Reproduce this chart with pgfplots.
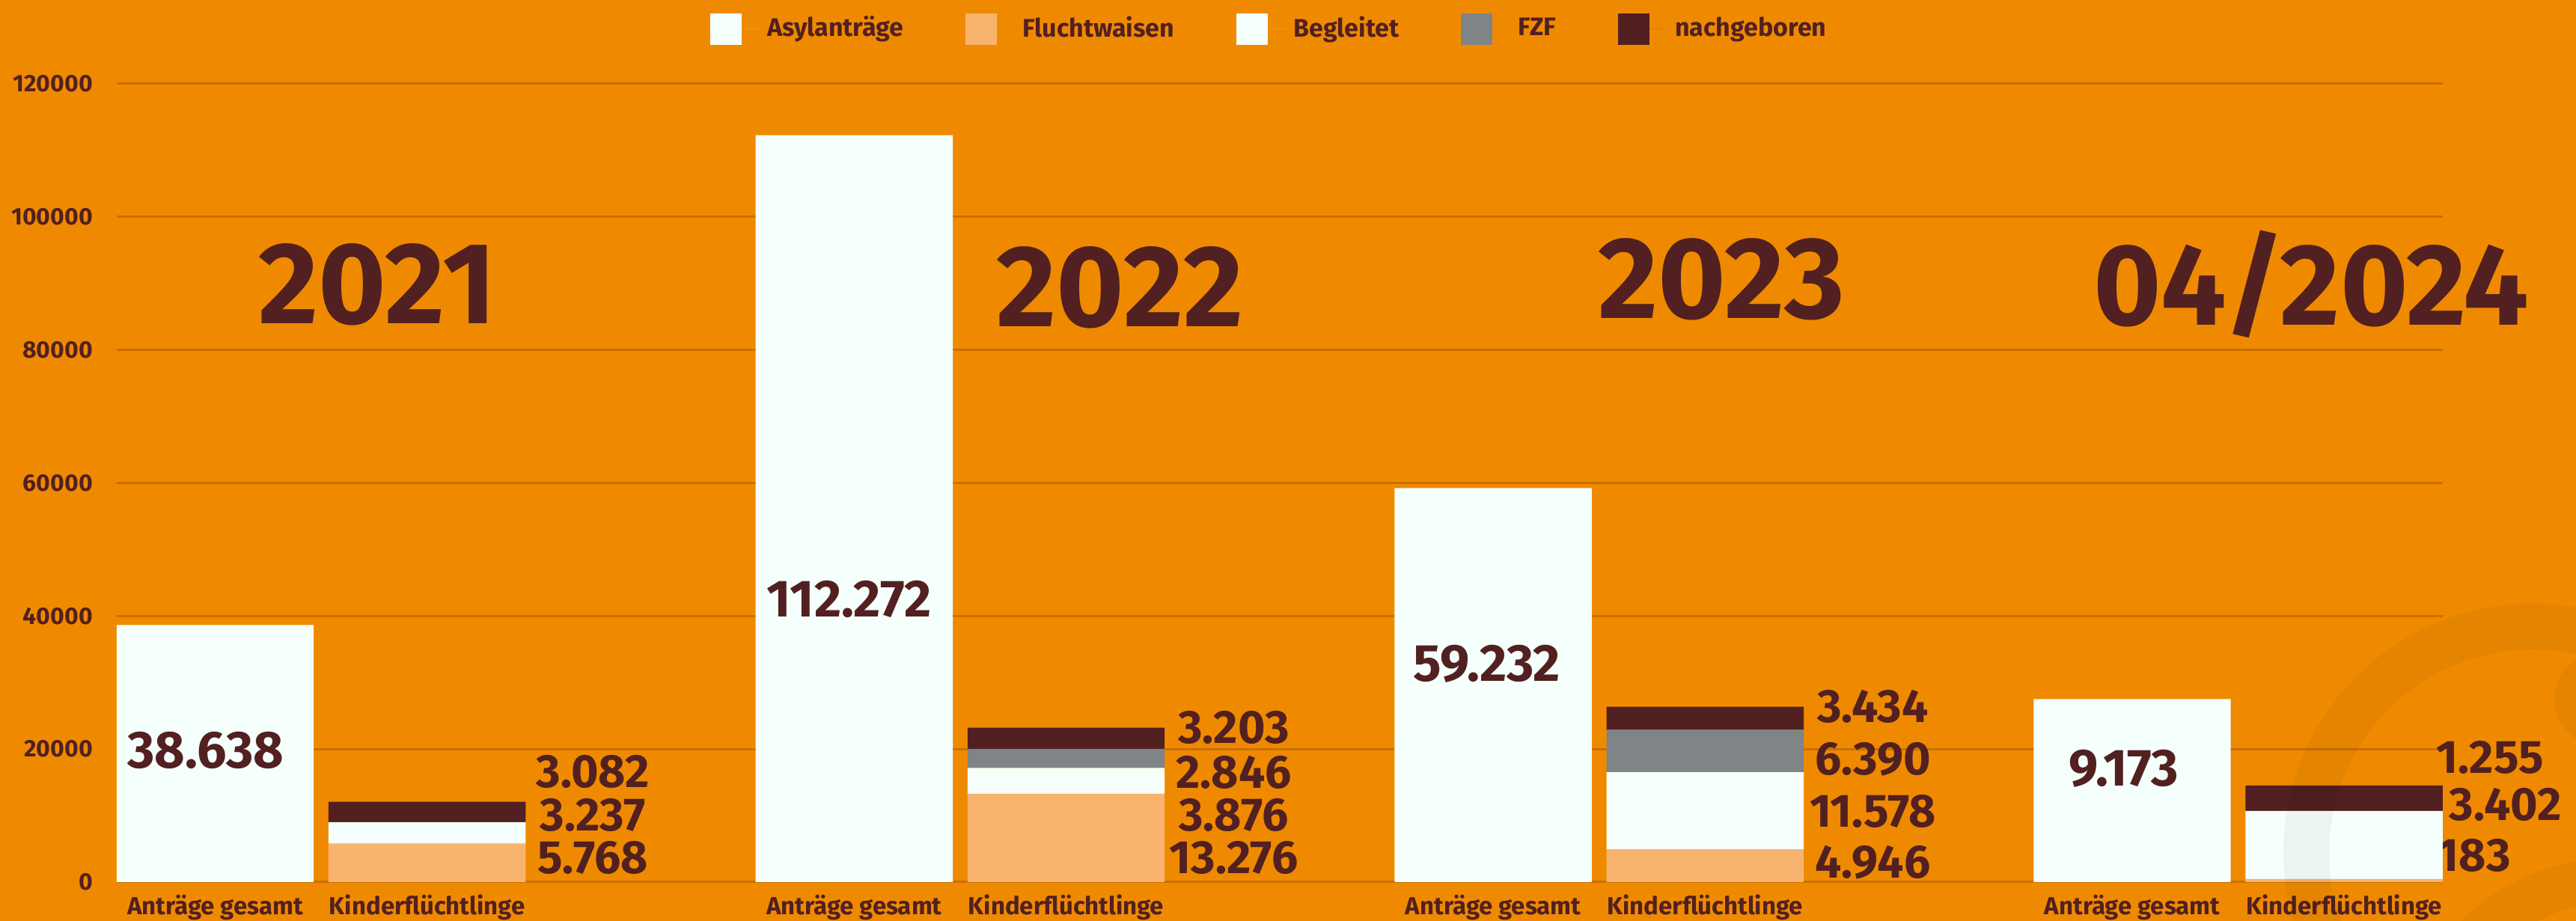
\documentclass[border=0pt]{standalone}
\usepackage{fontspec}
\setmainfont{Fira Sans}
\usepackage{pgfplots}
\pgfplotsset{compat=1.18}
\definecolor{bg}{HTML}{EF8A00}
\definecolor{gridc}{HTML}{C96F00}
\definecolor{wbar}{HTML}{F5FFFB}
\definecolor{flucht}{HTML}{F8B46E}
\definecolor{fzf}{HTML}{7F8487}
\definecolor{nach}{HTML}{522020}
\definecolor{txt}{HTML}{522020}

\pgfplotsset{base/.style={
  at={(0,0)}, anchor=south west, scale only axis,
  width=621.6pt, height=213.4pt,
  xmin=-0.1542, xmax=3.4858, ymin=0, ymax=120000,
  clip=false,
}}
\tikzset{
  vbig/.style={font=\bfseries\fontsize{14}{16}\selectfont, text=txt, inner sep=0pt},
  vsm/.style={font=\bfseries\fontsize{12.5}{14}\selectfont, text=txt, inner sep=0pt},
  yr/.style={font=\bfseries\fontsize{31}{35}\selectfont, text=txt, inner sep=0pt},
}

\begin{document}
\begin{tikzpicture}
\useasboundingbox (-31.16pt,-10.4pt) rectangle (657.24pt,235.8pt);
\fill[bg] (-31.16pt,-10.4pt) rectangle (657.24pt,235.8pt);
\begin{axis}[base,
  axis line style={draw=none},
  major tick length=0pt,
  ymajorgrids, grid style={draw=gridc, line width=0.6pt},
  ytick={0,20000,40000,60000,80000,100000,120000},
  scaled y ticks=false,
  /pgf/number format/fixed,
  /pgf/number format/precision=0,
  /pgf/number format/assume math mode=true,
  /pgf/number format/set thousands separator={},
  yticklabel style={font=\bfseries\fontsize{6.4}{7}\selectfont, text=txt, inner sep=0pt, xshift=-6.2pt},
  xtick={0,0.3316,1,1.3316,2,2.3316,3,3.3316},
  xticklabels={Anträge gesamt,Kinderflüchtlinge,Anträge gesamt,Kinderflüchtlinge,Anträge gesamt,Kinderflüchtlinge,Anträge gesamt,Kinderflüchtlinge},
  xticklabel style={font=\bfseries\fontsize{6.6}{7}\selectfont, text=txt, anchor=north, inner sep=0pt, yshift=-3.2pt},
  ybar, bar width=0.3085, bar shift=0pt,
]
\addplot[fill=wbar, draw=none] coordinates {(0,38638) (1,112272) (2,59232) (3,27500)};
\node[vbig] at (axis cs:-0.015,19753) {38.638};
\node[vbig] at (axis cs:0.992,42467) {112.272};
\node[vbig] at (axis cs:1.99,32838) {59.232};
\node[vbig] at (axis cs:2.987,17037) {9.173};
\node[yr] at (axis cs:0.254,89873) {2021};
\node[yr] at (axis cs:1.416,89380) {2022};
\node[yr] at (axis cs:2.357,90614) {2023};
\node[yr] at (axis cs:3.28,89873) {04/2024};
\end{axis}
\begin{axis}[base, hide axis, ybar stacked, bar width=0.3085, bar shift=0pt,
  legend columns=5,
  legend style={at={(0.5,1)}, anchor=center, yshift=14.6pt, xshift=-2pt, draw=none, fill=none,
    font=\bfseries\fontsize{6.8}{8}\selectfont, text=txt,
    /tikz/every even column/.append style={column sep=14.6pt}},
  legend image code/.code={\fill[#1] (0pt,-4.2pt) rectangle (8.4pt,4.2pt); \path (0pt,0pt) -- (13.2pt,0pt);},
]
\addlegendimage{fill=wbar, draw=none}
\addlegendentry{Asylanträge}
\addplot[fill=flucht, draw=none] coordinates {(0.3316,5768) (1.3316,13276) (2.3316,4946) (3.3316,450)};
\addlegendentry{Fluchtwaisen}
\addplot[fill=wbar, draw=none] coordinates {(0.3316,3237) (1.3316,3876) (2.3316,11578) (3.3316,10250)};
\addlegendentry{Begleitet}
\addplot[fill=fzf, draw=none] coordinates {(0.3316,0) (1.3316,2846) (2.3316,6390) (3.3316,0)};
\addlegendentry{FZF}
\addplot[fill=nach, draw=none] coordinates {(0.3316,3082) (1.3316,3203) (2.3316,3434) (3.3316,3830)};
\addlegendentry{nachgeboren}
\node[vsm] at (axis cs:0.591,16543) {3.082};
\node[vsm] at (axis cs:0.591,10123) {3.237};
\node[vsm] at (axis cs:0.591,3704) {5.768};
\node[vsm] at (axis cs:1.594,23210) {3.203};
\node[vsm] at (axis cs:1.594,16543) {2.846};
\node[vsm] at (axis cs:1.594,10123) {3.876};
\node[vsm] at (axis cs:1.594,3704) {13.276};
\node[vsm] at (axis cs:2.594,26420) {3.434};
\node[vsm] at (axis cs:2.594,18518) {6.390};
\node[vsm] at (axis cs:2.594,10617) {11.578};
\node[vsm] at (axis cs:2.594,2963) {4.946};
\node[vsm] at (axis cs:3.560,18765) {1.255};
\node[vsm] at (axis cs:3.584,11605) {3.402};
\node[vsm] at (axis cs:3.535,3950) {183};
\end{axis}
% faint watermark rings (decoration)
\fill[black, opacity=0.045, even odd rule] (645.64pt,7.8pt) circle[radius=66.6pt] (645.64pt,7.8pt) circle[radius=54.4pt];
\fill[black, opacity=0.045] (663.84pt,48.8pt) circle[radius=12.4pt];
\fill[black, opacity=0.045, even odd rule] (668.84pt,-54.2pt) circle[radius=61pt] (668.84pt,-54.2pt) circle[radius=49pt];
\end{tikzpicture}
\end{document}
